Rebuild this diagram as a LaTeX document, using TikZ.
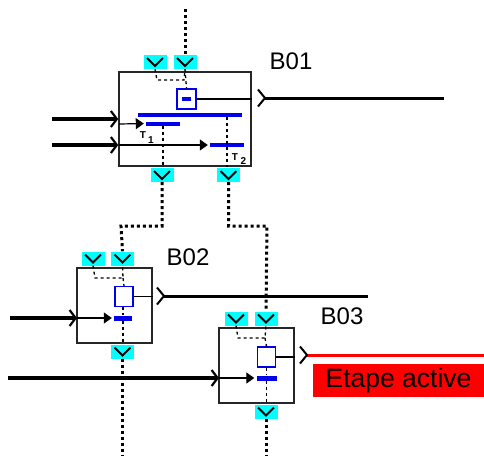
\documentclass[tikz,border=0pt]{standalone}
\usepackage{fontspec}
\setmainfont{Liberation Sans}
\usetikzlibrary{arrows.meta}
\definecolor{bleu}{RGB}{0,0,235}
\definecolor{turquoise}{RGB}{0,255,255}
\definecolor{rouge}{RGB}{255,0,0}
\tikzset{
  bloc/.style={draw=black!85,line width=1.5pt,inner sep=0pt,minimum width=#1},
  bloc/.default=75pt,
  porte/.style={fill=turquoise,inner sep=0pt,minimum height=14pt,minimum width=23pt,
    path picture={\draw[line width=2pt,black]
      ([shift={(-8pt,4pt)}]path picture bounding box.center)
      -- ([shift={(0pt,-4pt)}]path picture bounding box.center)
      -- ([shift={(8pt,4pt)}]path picture bounding box.center);}},
  etape/.style={draw=bleu,line width=1.3pt,fill=white,inner sep=0pt,minimum width=18pt,minimum height=20pt},
  trans/.style={fill=bleu,inner sep=0pt,minimum height=4pt},
  nom/.style={font=\fontsize{24}{24}\selectfont,inner sep=0pt},
  repere/.style={font=\bfseries\fontsize{10}{10}\selectfont,inner sep=0pt},
  liaison/.style={line width=3pt,dash pattern=on 3pt off 3pt},
  renvoi/.style={line width=1.3pt,dash pattern=on 3pt off 3pt},
  entree/.style={line width=3.2pt,-{Straight Barb[length=6pt,width=16pt,line width=2.2pt]}},
  sortie/.style={line width=3pt,{Straight Barb[reversed,length=7pt,width=17pt,line width=2pt]}-},
  fil/.style={line width=1.2pt},
  vers/.style={fil,-{Triangle[length=8pt,width=11pt]},shorten >=2pt},
}
\begin{document}
\begin{tikzpicture}[x=1pt,y=-1pt]
  \useasboundingbox (0,0) rectangle (484,456);
  % B01
  \node[porte] (p1g) at (155,62) {};
  \node[porte] (p1d) at (185,62) {};
  \node[porte] (p1b) at (162,175) {};
  \node[porte] (p1c) at (228.5,175) {};
  \node[bloc=132pt,minimum height=94pt] (b1) at (185,119) {};
  \node[etape,minimum width=19pt] (e1) at (186.5,99) {};
  \node[trans,minimum width=9pt] (m1) at (186,99) {};
  \node[trans,minimum width=104pt] (t0) at (190,115) {};
  \node[trans,minimum width=34pt] (t1) at (163,123.5) {};
  \node[trans,minimum width=34pt] (t2) at (227,145) {};
  \node[nom] (n1) at (291,61) {B01};
  \node[repere] (r1) at (143,135.5) {T};
  \node[repere] (i1) at (151,140) {1};
  \node[repere] (r2) at (235,157) {T};
  \node[repere] (i2) at (243.5,161.5) {2};
  \coordinate (a1) at (52,119);
  \coordinate (a2) at (52,145);
  \coordinate (c1) at (119,124);
  \coordinate (c2) at (119,145);
  \coordinate (s1) at (257,98);
  \coordinate (f1) at (444,98);
  \coordinate (h1) at (185,9);
  \coordinate (d1) at (157,80);
  \coordinate (d2) at (184,80);
  % B02
  \node[porte] (p2g) at (93,258.5) {};
  \node[porte] (p2d) at (122.5,258.5) {};
  \node[porte] (p2b) at (122.5,351.5) {};
  \node[bloc,minimum height=75pt] (b2) at (114.5,305.5) {};
  \node[etape] (e2) at (124,296.5) {};
  \node[trans,minimum width=18pt,minimum height=5pt] (t3) at (123,318) {};
  \node[nom] (n2) at (188,257) {B02};
  \coordinate (a3) at (10,318);
  \coordinate (c3) at (77,318);
  \coordinate (s2) at (156,296);
  \coordinate (f2) at (368,296);
  \coordinate (d3) at (95,278);
  \coordinate (d4) at (123,278);
  \coordinate (k1) at (162,226);
  \coordinate (k2) at (121,226);
  \coordinate (k3) at (228.5,226);
  \coordinate (k4) at (267,226);
  \coordinate (q2) at (122.5,456);
  % B03
  \node[porte] (p3g) at (236,318.5) {};
  \node[porte] (p3d) at (266,318.5) {};
  \node[porte] (p3b) at (266,411.5) {};
  \node[bloc,minimum height=75pt] (b3) at (256.5,365.5) {};
  \node[etape] (e3) at (266.5,357) {};
  \node[trans,minimum width=20pt,minimum height=5pt] (t4) at (266.5,378) {};
  \node[nom] (n3) at (342,316) {B03};
  \node[fill=rouge,minimum width=171pt,minimum height=33pt,inner sep=0pt,
    font=\fontsize{26.5}{26.5}\selectfont] (v1) at (398.5,380.5) {Etape active};
  \coordinate (a4) at (8,378);
  \coordinate (c4) at (219,378);
  \coordinate (s3) at (299,355);
  \coordinate (f3) at (484,355);
  \coordinate (d5) at (238,338);
  \coordinate (d6) at (265,338);
  \coordinate (q3) at (266,456);
  % liaisons
  \draw[liaison] (h1) -- (p1d.north);
  \draw[liaison] (p1b.south) -- (k1) -- (k2) -- (p2d.north);
  \draw[liaison] (p1c.south) -- (k3) -- (k4) -- (p3d.north);
  \draw[entree] (a1) -- (b1.west |- a1);
  \draw[entree] (a2) -- (b1.west |- a2);
  \draw[entree] (a3) -- (c3);
  \draw[entree] (a4) -- (c4);
  \draw[sortie] (s1) -- (f1);
  \draw[sortie] (s2) -- (f2);
  \draw[liaison] (p2b.south) -- (q2);
  \draw[liaison] (p3b.south) -- (q3);
  \draw[draw=rouge,line width=3pt,{Straight Barb[reversed,length=7pt,width=17pt,line width=2pt,black]}-] (s3) -- (f3);
  % fils
  \draw[vers] (c1) -- (t1.west);
  \draw[vers] (c2) -- (t2.west);
  \draw[vers] (c3) -- (t3.west);
  \draw[vers] (c4) -- (t4.west);
  \draw[fil] (e1.east) -- (b1.east |- e1);
  \draw[fil] (e2.east) -- (b2.east |- e2);
  \draw[fil] (e3.east) -- (b3.east |- e3);
  % renvois
  \draw[renvoi] (p1g.south) -- (d1) -- (d2) -- (p1d.south);
  \draw[renvoi] (p1d.south) -- (e1.north);
  \draw[renvoi] (t1.south) -- (b1.south -| t1);
  \draw[renvoi] (t0.south -| t2) -- (b1.south -| t2);
  \draw[renvoi] (p2g.south) -- (d3) -- (d4) -- (p2d.south);
  \draw[renvoi] (d4) -- (e2.north);
  \draw[renvoi] (e2.south -| t3) -- (t3.north);
  \draw[renvoi] (t3.south) -- (b2.south -| t3);
  \draw[renvoi] (p3g.south) -- (d5) -- (d6) -- (p3d.south);
  \draw[renvoi] (d6) -- (e3.north);
  \draw[renvoi] (e3.south) -- (t4.north);
  \draw[renvoi] (t4.south) -- (b3.south -| t4);
\end{tikzpicture}
\end{document}
